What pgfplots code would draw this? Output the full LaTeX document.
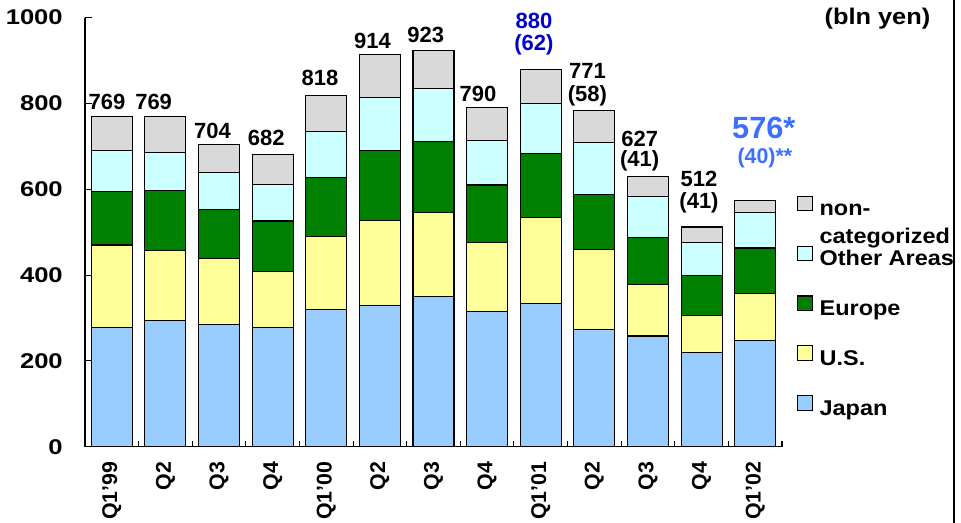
\documentclass[border=0pt]{standalone}
\usepackage{pgfplots}
\pgfplotsset{compat=1.18}
\usepackage{pgfplotstable}
\usepackage{graphicx}
\usepackage{fontspec}
\setmainfont{Liberation Sans}

\definecolor{cJapan}{RGB}{153,204,255}
\definecolor{cUS}{RGB}{255,255,153}
\definecolor{cEurope}{RGB}{0,128,0}
\definecolor{cOther}{RGB}{204,255,255}
\definecolor{cNC}{RGB}{217,217,217}
\definecolor{dblue}{RGB}{0,0,204}
\definecolor{lblue}{RGB}{60,110,255}

\newcommand\lbl{\fontsize{16pt}{19pt}\selectfont\bfseries}
\newcommand\blbl{\fontsize{16.5pt}{19pt}\selectfont\bfseries}
\DeclareRobustCommand\nclabel{\raisebox{0pt}[0pt][0pt]{\parbox[t]{4cm}{\fontsize{16pt}{21pt}\selectfont\bfseries\scalebox{1.1}[1]{non-}\\\scalebox{1.1}[1]{categorized}}}}
\DeclareRobustCommand\sx[1]{\scalebox{1.1}[1]{#1}}
\DeclareRobustCommand\sy[1]{\scalebox{1.2}[1]{#1}}

\pgfplotstableread{
x J US EU OT NC
0 278 192 124 96 79
1 293 164 140 89 83
2 285 154 113 87 65
3 278 130 118 86 70
4 319 171 138 106 84
5 330 198 162 123 101
6 350 195 166 123 89
7 316 160 134 104 76
8 333 202 148 117 80
9 274 186 127 123 73
10 258 120 110 96 45
11 219 86 93 78 36
12 247 111 105 83 27
}\data

\begin{document}
\begin{tikzpicture}
\path[use as bounding box] (-63.75pt,-57.2pt) rectangle (657pt,335pt);
\begin{axis}[
  at={(0,0)}, anchor=south west,
  scale only axis, width=522.75pt, height=321.75pt,
  ybar stacked, bar width=30.75pt,
  xmin=-0.5, xmax=12.5, ymin=0, ymax=1000,
  clip=false,
  axis x line*=bottom, axis y line*=left,
  axis line style={line width=1pt,-},
  xtick={0,...,12},
  xticklabels={Q1'99,Q2,Q3,Q4,Q1'00,Q2,Q3,Q4,Q1'01,Q2,Q3,Q4,Q1'02},
  major x tick style={draw=none},
  minor xtick={0.5,1.5,...,12.5},
  minor tick length=4.5pt,
  ytick={0,200,...,1000},
  yticklabels={\sy{0},\sy{200},\sy{400},\sy{600},\sy{800},\sy{1000}},
  major tick length=5pt,
  tick align=inside,
  tick style={black, line width=0.8pt},
  xticklabel style={rotate=90, anchor=east, inner sep=0pt, xshift=-11pt, font=\lbl},
  yticklabel style={anchor=east, inner sep=0pt, xshift=-16.5pt, font=\lbl},
  reverse legend,
  legend cell align=left,
  legend style={at={(1.0215,0.5856)}, anchor=north west, draw=none, fill=none,
    inner sep=0pt, row sep=18.5pt, column sep=5pt, font=\lbl,
    nodes={inner sep=0pt, text height=12pt, text depth=4pt}},
  legend image code/.code={\draw[#1, draw=black, line width=0.8pt] (0pt,-0.5pt) rectangle (11pt,10.5pt);},
]
\addplot[fill=cJapan, draw=black, line width=0.8pt] table[x=x,y=J]{\data};
\addplot[fill=cUS, draw=black, line width=0.8pt] table[x=x,y=US]{\data};
\addplot[fill=cEurope, draw=black, line width=0.8pt] table[x=x,y=EU]{\data};
\addplot[fill=cOther, draw=black, line width=0.8pt] table[x=x,y=OT]{\data};
\addplot[fill=cNC, draw=black, line width=0.8pt] table[x=x,y=NC]{\data};
\legend{\sx{Japan},\sx{U.S.},\sx{Europe},\sx{Other Areas},\nclabel}

\node[anchor=base, inner sep=0pt, font=\blbl] at (axis cs:-0.09,785) {769};
\node[anchor=base, inner sep=0pt, font=\blbl] at (axis cs:0.78,785) {769};
\node[anchor=base, inner sep=0pt, font=\blbl] at (axis cs:1.878,719) {704};
\node[anchor=base, inner sep=0pt, font=\blbl] at (axis cs:2.882,703) {682};
\node[anchor=base, inner sep=0pt, font=\blbl] at (axis cs:3.883,843) {818};
\node[anchor=base, inner sep=0pt, font=\blbl] at (axis cs:4.862,929) {914};
\node[anchor=base, inner sep=0pt, font=\blbl] at (axis cs:5.856,942) {923};
\node[anchor=base, inner sep=0pt, font=\blbl] at (axis cs:6.83,804) {790};
\node[anchor=base, inner sep=0pt, font=\blbl, text=dblue] at (axis cs:7.874,975) {880};
\node[anchor=base, inner sep=0pt, font=\blbl, text=dblue] at (axis cs:7.874,924) {(62)};
\node[anchor=base, inner sep=0pt, font=\blbl] at (axis cs:8.872,859) {771};
\node[anchor=base, inner sep=0pt, font=\blbl] at (axis cs:8.872,804) {(58)};
\node[anchor=base, inner sep=0pt, font=\blbl] at (axis cs:9.846,700) {627};
\node[anchor=base, inner sep=0pt, font=\blbl] at (axis cs:9.846,653) {(41)};
\node[anchor=base, inner sep=0pt, font=\blbl] at (axis cs:10.952,606) {512};
\node[anchor=base, inner sep=0pt, font=\blbl] at (axis cs:10.952,556) {(41)};
\node[anchor=base, inner sep=0pt, text=lblue, font=\fontsize{23pt}{26pt}\selectfont\bfseries] at (axis cs:12.16,719) {576*};
\node[anchor=base, inner sep=0pt, text=lblue, font=\lbl] at (axis cs:12.18,659) {(40)**};
\node[anchor=base, inner sep=0pt, font=\fontsize{17pt}{20pt}\selectfont\bfseries] at (axis cs:14.28,983) {\scalebox{1.12}[1]{(bln yen)}};
\end{axis}
\fill[white] (652.5pt,-57.2pt) rectangle (657pt,335pt);
\draw[line width=1.5pt] (651.75pt,-57.2pt) -- (651.75pt,335pt);
\end{tikzpicture}
\end{document}
